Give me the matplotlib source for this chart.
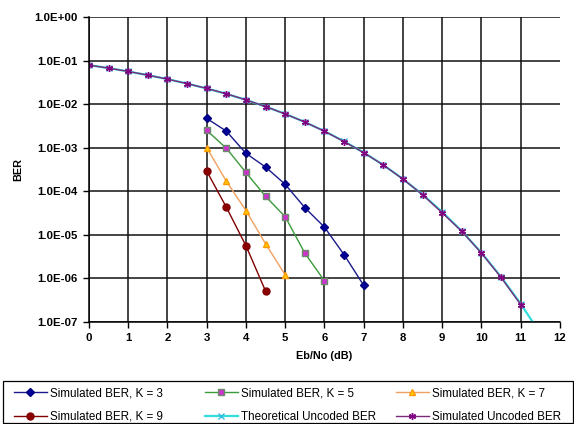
import matplotlib.pyplot as plt
from matplotlib.patches import Rectangle
from matplotlib.ticker import FuncFormatter, FixedLocator

plt.rcParams['font.family'] = ['Liberation Sans', 'DejaVu Sans']

# Coded results (Eb/No in dB, BER)
ebno_k3 = [3.0, 3.5, 4.0, 4.5, 5.0, 5.5, 6.0, 6.5, 7.0]
ber_k3 = [4.7e-3, 2.4e-3, 7.4e-4, 3.6e-4, 1.44e-4, 4.2e-5, 1.5e-5, 3.5e-6, 6.9e-7]

ebno_k5 = [3.0, 3.5, 4.0, 4.5, 5.0, 5.5, 6.0]
ber_k5 = [2.5e-3, 9.7e-4, 2.7e-4, 7.6e-5, 2.6e-5, 3.8e-6, 8.8e-7]

ebno_k7 = [3.0, 3.5, 4.0, 4.5, 5.0]
ber_k7 = [1.0e-3, 1.7e-4, 3.6e-5, 6.2e-6, 1.2e-6]

ebno_k9 = [3.0, 3.5, 4.0, 4.5]
ber_k9 = [2.9e-4, 4.3e-5, 5.6e-6, 5.1e-7]

# Uncoded results
ebno_theory = [0.0, 0.5, 1.0, 1.5, 2.0, 2.5, 3.0, 3.5, 4.0, 4.5, 5.0, 5.5,
               6.0, 6.5, 7.0, 7.5, 8.0, 8.5, 9.0, 9.5, 10.0, 10.5, 11.0, 11.5]
ber_theory = [7.865e-2, 6.712e-2, 5.628e-2, 4.626e-2, 3.751e-2, 2.963e-2,
              2.288e-2, 1.724e-2, 1.250e-2, 8.78e-3, 5.954e-3, 3.884e-3,
              2.388e-3, 1.399e-3, 7.727e-4, 4.013e-4, 1.909e-4, 8.40e-5,
              3.36e-5, 1.21e-5, 3.87e-6, 1.08e-6, 2.61e-7, 5.4e-8]

ebno_sim = [0.0, 0.5, 1.0, 1.5, 2.0, 2.5, 3.0, 3.5, 4.0, 4.5, 5.0, 5.5,
            6.0, 6.5, 7.0, 7.5, 8.0, 8.5, 9.0, 9.5, 10.0, 10.5, 11.0]
ber_sim = [7.87e-2, 6.70e-2, 5.63e-2, 4.63e-2, 3.75e-2, 2.96e-2,
           2.29e-2, 1.73e-2, 1.25e-2, 8.80e-3, 5.95e-3, 3.88e-3,
           2.39e-3, 1.38e-3, 7.70e-4, 4.00e-4, 1.90e-4, 8.30e-5,
           3.20e-5, 1.20e-5, 3.80e-6, 1.05e-6, 2.50e-7]

fig = plt.figure(figsize=(5.74, 4.24), dpi=100)
ax = fig.add_axes([0.155, 0.2406, 0.8206, 0.7193])

h3, = ax.plot(ebno_k3, ber_k3, color='#1a1a8c', lw=1, marker='D', ms=4.2,
              mfc='#000099', mec='#000080', label='Simulated BER, K = 3')
h5, = ax.plot(ebno_k5, ber_k5, color='#3a9a3a', lw=1, marker='s', ms=4.6,
              mfc='#cc33cc', mec='#6a8a6a', label='Simulated BER, K = 5')
h7, = ax.plot(ebno_k7, ber_k7, color='#f0a060', lw=1, marker='^', ms=5,
              mfc='#ffcc00', mec='#ff9900', label='Simulated BER, K = 7')
h9, = ax.plot(ebno_k9, ber_k9, color='#800000', lw=1, marker='o', ms=5,
              mfc='#8b0000', mec='#800000', label='Simulated BER, K = 9')
ht, = ax.plot(ebno_theory, ber_theory, color='#33dddd', lw=1.6, marker='x', ms=4.5,
              mec='#33bbdd', label='Theoretical Uncoded BER')
hs, = ax.plot(ebno_sim, ber_sim, color='#7a2a7a', lw=1, marker=(6, 2, 0), ms=5,
              mec='#800080', mew=1, label='Simulated Uncoded BER')

ax.set_yscale('log')
ax.set_xlim(0, 12)
ax.set_ylim(1e-7, 1)
ax.xaxis.set_major_locator(FixedLocator(range(0, 13)))
ax.yaxis.set_major_locator(FixedLocator([10.0 ** e for e in range(-7, 1)]))
ax.yaxis.set_minor_locator(FixedLocator([]))
ax.yaxis.set_major_formatter(FuncFormatter(lambda v, p: f'{v:.1E}'))

ax.grid(True, color='#111111', lw=1.1)
ax.get_xgridlines()[-1].set_visible(False)
ax.set_axisbelow(True)
for side in ['top', 'right']:
    ax.spines[side].set_visible(False)
for side in ['left', 'bottom']:
    ax.spines[side].set_linewidth(1.1)
ax.tick_params(direction='out', length=4, width=1, labelsize=8.2, pad=4)
for lab in ax.get_xticklabels() + ax.get_yticklabels():
    lab.set_fontweight('bold')

ax.set_xlabel('Eb/No (dB)', fontsize=7.8, fontweight='bold', labelpad=6)
ax.set_ylabel('BER', fontsize=7.8, fontweight='bold', labelpad=8)

# legend frame spanning the bottom of the figure
fig.patches.append(Rectangle((3 / 574, 1 / 424), 570 / 574, 42 / 424,
                             transform=fig.transFigure, fill=False,
                             edgecolor='black', lw=0.9))

# three equally spaced legend columns
columns = [[h3, h9], [h5, ht], [h7, hs]]
col_x = [14, 205, 396]
for handles, x in zip(columns, col_x):
    leg = fig.legend(handles, [h.get_label() for h in handles],
                     loc='upper left', bbox_to_anchor=(x / 574, 1 - 387 / 424),
                     bbox_transform=fig.transFigure, frameon=False,
                     fontsize=8.4, handlelength=2.8, handletextpad=0.25,
                     borderpad=0, borderaxespad=0, labelspacing=1.0)

fig.savefig('out.png', dpi=100)
